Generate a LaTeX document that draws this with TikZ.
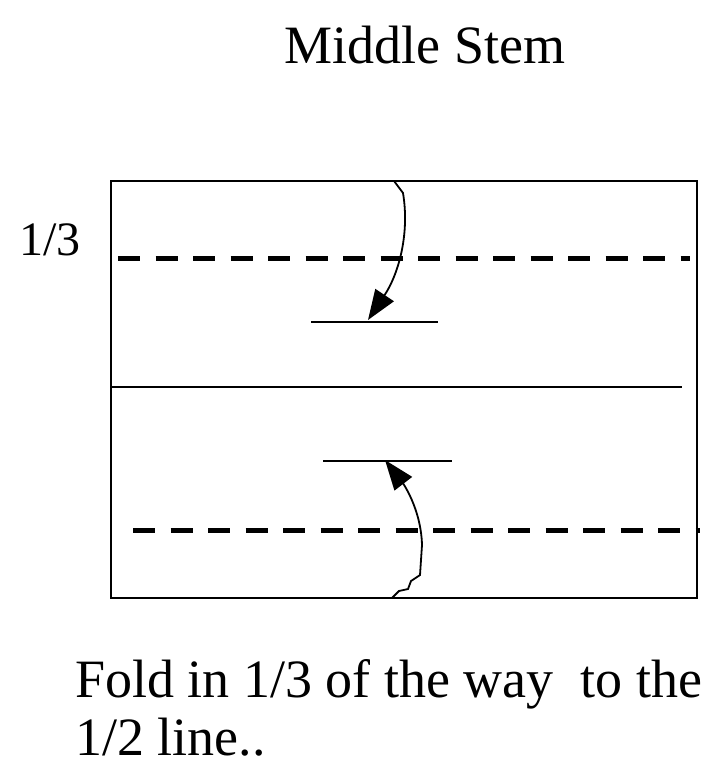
\documentclass[tikz,border=0pt]{standalone}
\usepackage{fontspec}
\setmainfont{Liberation Serif}
\usetikzlibrary{arrows.meta}
\begin{document}
\begin{tikzpicture}[x=1pt,y=-1pt,
  edge/.style={line width=2pt,black},
  fold/.style={line width=5pt,black,dash pattern=on 22pt off 15.5pt},
  foldarrow/.style={line width=1.8pt,black,-{Triangle[length=30pt,width=22pt]}},
  lbl/.style={inner sep=0pt,font=\fontsize{54}{60}\selectfont}]
\useasboundingbox (0,0) rectangle (721,768);
\fill[white] (0,0) rectangle (721,768);
\node[lbl] (title) at (425,45) {Middle Stem};
\node[lbl,anchor=west,font=\fontsize{48}{54}\selectfont] (third) at (19,240) {1/3};
\node[lbl,anchor=west] (cap1) at (75,684) {Fold in 1/3 of the way\ \ to the};
\node[lbl,anchor=west] (cap2) at (75,737) {1/2 line..};
\draw[edge] (111,181) rectangle (697,598);
\coordinate (dashAl) at (118,258); \coordinate (dashAr) at (690,258);
\coordinate (dashBl) at (133,530); \coordinate (dashBr) at (700,530);
\draw[fold] (dashAl) -- (dashAr);
\draw[fold] (dashBl) -- (dashBr);
\coordinate (midl) at (111,387); \coordinate (midr) at (682,387);
\draw[edge] (midl) -- (midr);
\coordinate (tAl) at (311,322); \coordinate (tAr) at (438,322);
\coordinate (tBl) at (323,461); \coordinate (tBr) at (452,461);
\draw[edge] (tAl) -- (tAr);
\draw[edge] (tBl) -- (tBr);
\coordinate (aStart) at (394,181); \coordinate (aEnd) at (368,320);
\coordinate (bStart) at (392,598); \coordinate (bEnd) at (385,460);
\draw[foldarrow] (aStart) -- (403,193) .. controls (410,235) and (398,275) .. (aEnd);
\draw[foldarrow] (bStart) -- (399,591) -- (408,589) -- (411,581) -- (420,575) -- (422,545) .. controls (421,508) and (402,482) .. (bEnd);
\end{tikzpicture}
\end{document}
